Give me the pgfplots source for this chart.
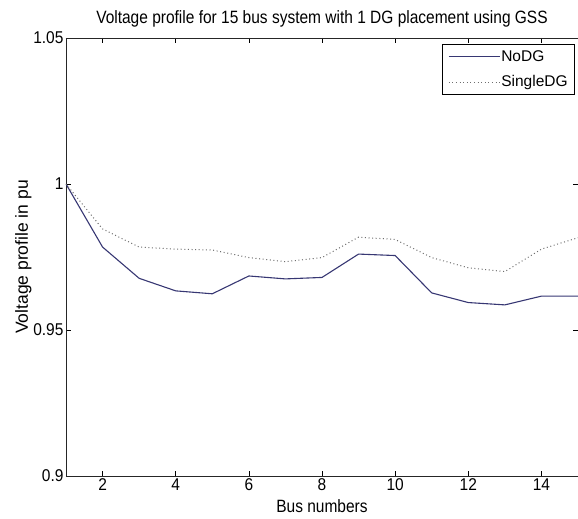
\documentclass[border=0pt]{standalone}
\usepackage{fontspec}
\setmainfont{Liberation Sans}
\usepackage{pgfplots}
\pgfplotsset{compat=1.18}
\definecolor{nodg}{RGB}{55,55,115}
\definecolor{sdg}{RGB}{110,110,110}
\begin{document}
\begin{tikzpicture}
\begin{axis}[
  at={(0,0)}, anchor=south west,
  scale only axis, width=512pt, height=438pt,
  xmin=1, xmax=15, ymin=0.9, ymax=1.05,
  xtick={2,4,...,14}, ytick={0.9,0.95,1,1.05},
  yticklabels={0.9,0.95,1,1.05},
  tick align=inside, major tick length=5pt,
  tick style={black, line width=0.6pt},
  axis line style={black!85, line width=0.8pt},
  tick label style={font=\fontsize{15.5}{17}\selectfont, yscale=1.1},
  xticklabel style={yshift=1pt},
  yticklabel style={xshift=1pt},
  /pgf/number format/assume math mode=true,
  title={Voltage profile for 15 bus system with 1 DG placement using GSS},
  title style={font=\fontsize{15.5}{17}\selectfont, yscale=1.15, yshift=1pt},
  xlabel={Bus numbers},
  xlabel style={font=\fontsize{15.5}{17}\selectfont, yscale=1.15, yshift=-1pt},
  ylabel={Voltage profile in pu},
  ylabel style={font=\fontsize{17.5}{19}\selectfont, yshift=-5pt},
  legend cell align=left,
  legend style={at={(rel axis cs:0.994,0.986)}, anchor=north east,
    draw=black, line width=0.6pt, font=\fontsize{15.5}{17}\selectfont,
    row sep=9pt, inner xsep=6pt, inner ysep=4pt,
    nodes={inner xsep=1pt}},
  legend image code/.code={\draw[#1, line width=1pt] (0pt,0pt) -- (51pt,0pt);},
]
\addplot[color=nodg, line width=1.1pt] coordinates {
 (1,1.0) (2,0.9784) (3,0.9677) (4,0.9634) (5,0.9624) (6,0.9685) (7,0.9675)
 (8,0.9680) (9,0.9760) (10,0.9755) (11,0.9627) (12,0.9594) (13,0.9586)
 (14,0.9616) (15,0.9616)};
\addlegendentry{NoDG}
\addplot[color=sdg, line width=1pt, dash pattern=on 1pt off 2.6pt] coordinates {
 (1,1.0) (2,0.9846) (3,0.9784) (4,0.9777) (5,0.9774) (6,0.9748) (7,0.9734)
 (8,0.9748) (9,0.9818) (10,0.9810) (11,0.9748) (12,0.9713) (13,0.9700)
 (14,0.9777) (15,0.9816)};
\addlegendentry{SingleDG}
\end{axis}
\pgfresetboundingbox
\useasboundingbox (-66pt,-43pt) rectangle (512pt,476pt);
\end{tikzpicture}
\end{document}
